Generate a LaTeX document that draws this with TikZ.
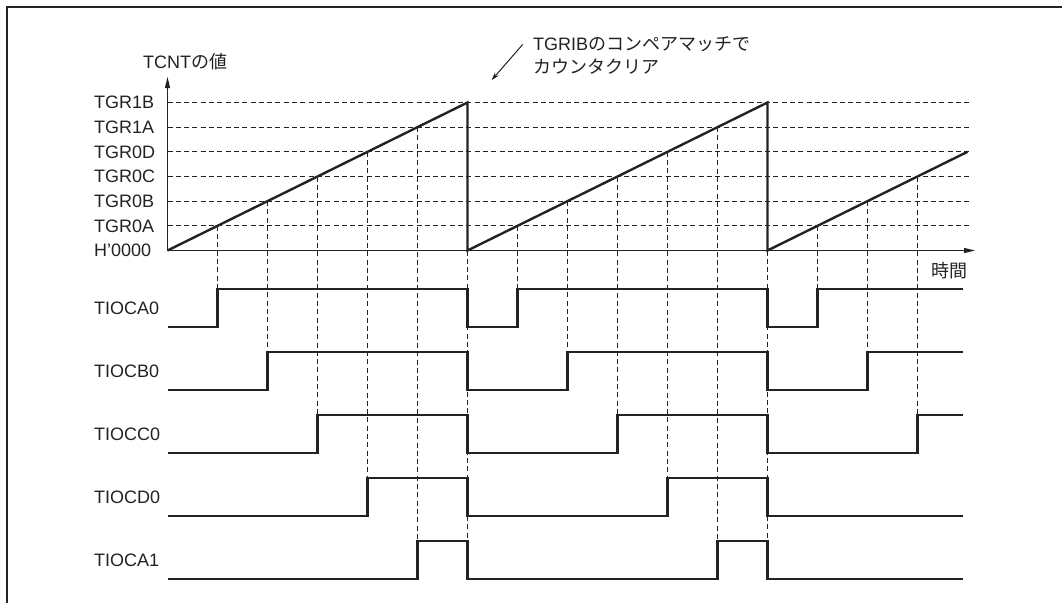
\documentclass[tikz,border=0pt]{standalone}
\usepackage{fontspec}
\setmainfont{Liberation Sans}
\newfontfamily\jpfont{Noto Sans CJK JP}
\usetikzlibrary{arrows.meta,positioning}
\definecolor{tmInk}{HTML}{222222}
\tikzset{
  frameline/.style={line width=2.4pt, tmInk},
  axisline/.style={line width=1.2pt, tmInk, -{Triangle[length=11pt,width=5pt]}},
  ramp/.style={line width=2.4pt, tmInk},
  signal/.style={line width=2.4pt, tmInk},
  guide/.style={line width=1.1pt, tmInk, dash pattern=on 5pt off 3.3pt},
  lbl/.style={font=\fontsize{18}{22}\selectfont, text=tmInk, inner sep=0pt, anchor=base west},
  noteline/.style={line width=1pt, tmInk, -{Stealth[length=8pt,width=5pt]}}
}

\begin{document}
\begin{tikzpicture}[x=1pt, y=-1pt]
  \useasboundingbox (0,0) rectangle (1062,603);
  % frame (top and left edges only)
  \draw[frameline] (6.7,603) -- (6.7,6.7) -- (1062,6.7);

  % axes
  \coordinate (O) at (167.5,250.5);
  \coordinate (ytip) at (167.5,77);
  \coordinate (xtip) at (975,250.5);
  \node[lbl] (tcnt) at (143,68.4) {TCNT{\jpfont の値}};
  \node[lbl] (time) at (931.5,277) {\jpfont 時間};

  % compare levels
  \foreach \name [count=\k] in {TGR0A,TGR0B,TGR0C,TGR0D,TGR1A,TGR1B} {
    \node[lbl] (lv\k) at (94,{250.5-24.667*\k+6.3}) {\name};
    \draw[guide] (167.5,{250.5-24.667*\k}) -- (970,{250.5-24.667*\k});
  }
  \node[lbl] (lv0) at (94,256.8) {H'0000};

  % compare match guides
  \foreach \p in {0,300,600} {
    \foreach \k in {1,...,5} {
      \pgfmathsetmacro\tx{167.5+50*\k+\p}
      \ifdim\tx pt<960pt
        \draw[guide] (\tx,{250.5-24.667*\k}) -- (\tx,{289+63*(\k-1)});
      \fi
    }
  }
  \foreach \tx in {467.5,767.5}
    \draw[guide] (\tx,250.5) -- (\tx,541);

  \draw[axisline] (O) -- (ytip);
  \draw[axisline] (O) -- (xtip);
  \draw[ramp] (O) -- (467.5,102.5) -- (467.5,250.5) -- (767.5,102.5) -- (767.5,250.5) -- (967.5,151.8);

  % counter clear note
  \node[lbl] (note1) at (533,50.5) {TGRIB{\jpfont のコンペアマッチで}};
  \node[lbl] (note2) at ([yshift=-22.5pt]note1.base west) {\jpfont カウンタクリア};
  \coordinate (cleartip) at (491.7,80);
  \draw[noteline] ([xshift=-10.3pt,yshift=6pt]note1.base west) -- (cleartip);

  % output waveforms
  \foreach \name [count=\r from 0] in {TIOCA0,TIOCB0,TIOCC0,TIOCD0,TIOCA1}
    \node[lbl] (sig\r) at (94,{289+63*\r+25.4}) {\name};
  \draw[signal] (167.5,327) -| (217.5,289) -| (467.5,327) -| (517.5,289) -| (767.5,327) -| (817.5,289) -- (963,289);
  \draw[signal] (167.5,390) -| (267.5,352) -| (467.5,390) -| (567.5,352) -| (767.5,390) -| (867.5,352) -- (963,352);
  \draw[signal] (167.5,453) -| (317.5,415) -| (467.5,453) -| (617.5,415) -| (767.5,453) -| (917.5,415) -- (963,415);
  \draw[signal] (167.5,516) -| (367.5,478) -| (467.5,516) -| (667.5,478) -| (767.5,516) -- (963,516);
  \draw[signal] (167.5,579) -| (417.5,541) -| (467.5,579) -| (717.5,541) -| (767.5,579) -- (963,579);
\end{tikzpicture}
\end{document}
